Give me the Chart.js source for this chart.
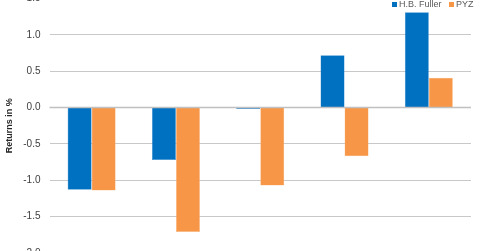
<!DOCTYPE html>
<html>
<head>
<meta charset="utf-8">
<script src="https://cdn.jsdelivr.net/npm/chart.js@4"></script>
<style>
  html, body { margin: 0; padding: 0; width: 480px; height: 251px; overflow: hidden; background: #fff; }
  #wrap { position: absolute; left: 0; top: -10px; width: 480px; height: 275px; }
  .legend { position: absolute; top: 0px; font: 9px "Liberation Sans", Arial, sans-serif; color: #595959; white-space: nowrap; line-height: 9px; }
  .legend span.box { display: inline-block; width: 5px; height: 5px; margin-right: 2px; vertical-align: 0px; }
</style>
</head>
<body>
<div id="wrap"><canvas id="c" width="480" height="275"></canvas></div>
<div class="legend" style="left:392px;"><span class="box" style="background:#0070C0"></span>H.B. Fuller</div>
<div class="legend" style="left:449px;"><span class="box" style="background:#F79646"></span>PYZ</div>
<script>
const categories = ["P1", "P2", "P3", "P4", "P5"];
const seriesNames = ["H.B. Fuller", "PYZ"];
const hbFuller = [-1.13, -0.72, -0.02, 0.72, 1.31];
const pyz = [-1.14, -1.71, -1.07, -0.67, 0.41];
const yTicks = [1.5, 1.0, 0.5, 0.0, -0.5, -1.0, -1.5, -2.0];

new Chart(document.getElementById('c'), {
  type: 'bar',
  data: {
    labels: categories,
    datasets: [
      { label: seriesNames[0], data: hbFuller, backgroundColor: '#0070C0', borderColor: '#3d8fd0', borderWidth: 0.5 },
      { label: seriesNames[1], data: pyz, backgroundColor: '#F79646', borderColor: '#fbc08f', borderWidth: 0.5 }
    ]
  },
  options: {
    responsive: false,
    animation: false,
    devicePixelRatio: 1,
    layout: { padding: { top: 8.5, bottom: 12, right: 9, left: 0 } },
    plugins: { legend: { display: false }, tooltip: { enabled: false } },
    datasets: { bar: { categoryPercentage: 0.57, barPercentage: 1.0 } },
    scales: {
      x: { display: false },
      y: {
        min: -2.0, max: 1.5,
        afterFit: (s) => { s.width = 49.5; s.paddingTop = 0; s.paddingBottom = 0; },
        afterBuildTicks: (s) => { s.ticks = yTicks.map(v => ({ value: v })); },
        ticks: {
          padding: 9,
          color: '#404040',
          font: { family: 'Liberation Sans', size: 10 },
          callback: (v) => v.toFixed(1)
        },
        border: { display: false },
        grid: {
          drawTicks: false,
          color: '#c8c8c8',
          lineWidth: 1,
          borderDash: [2, 2]
        },
        title: {
          display: true,
          text: 'Returns in %',
          color: '#262626',
          font: { family: 'Liberation Sans', size: 9, weight: 'bold' },
          padding: { top: 4, bottom: 0 }
        }
      }
    }
  },
  plugins: [{
    id: 'zeroLine',
    afterDatasetsDraw(chart) {
      const y = chart.scales.y.getPixelForValue(0);
      const ctx = chart.ctx;
      ctx.save();
      ctx.strokeStyle = '#c0c0c0';
      ctx.lineWidth = 1.5;
      ctx.beginPath();
      ctx.moveTo(chart.chartArea.left, y);
      ctx.lineTo(chart.chartArea.right, y);
      ctx.stroke();
      ctx.restore();
    }
  }]
});
</script>
</body>
</html>
